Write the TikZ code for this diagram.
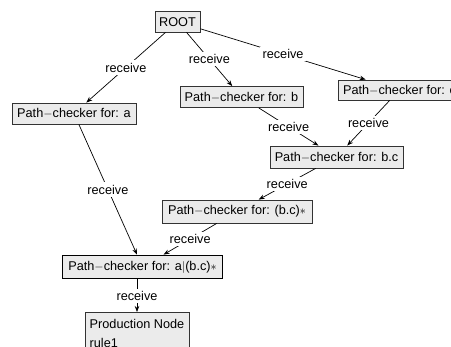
\documentclass[tikz,border=0pt]{standalone}
\usepackage{fontspec}
\setmainfont{Liberation Sans}
\usetikzlibrary{arrows.meta}
\begin{document}
\begin{tikzpicture}[x=1pt,y=-1pt,
  box/.style={draw=black!80, fill=black!8, line width=0.8pt, rectangle, inner sep=0pt, minimum height=21pt, font=\fontsize{12.7}{15}\selectfont},
  lbl/.style={fill=white, inner sep=2.5pt, font=\fontsize{12.7}{15}\selectfont},
  edge/.style={draw=black, line width=0.7pt, -{Stealth[length=6pt,width=4.5pt]}},
]
\useasboundingbox (0,0) rectangle (451,347);
\clip (0,0) rectangle (451,347);
\node[box, minimum width=45pt, minimum height=20.5pt] (root) at (177.5,21.75) {ROOT};
\node[box, minimum width=124pt] (a) at (74,113.5) {Path$-$checker for: a};
\node[box, minimum width=123pt] (b) at (241.5,97) {Path$-$checker for: b};
\node[box, minimum width=123pt, minimum height=20pt] (c) at (399.5,90) {Path$-$checker for: c};
\node[box, minimum width=133pt, minimum height=22pt] (bc) at (336.5,157) {Path$-$checker for: b.c};
\node[box, minimum width=150pt, minimum height=23pt] (bs) at (237,211.5) {Path$-$checker for: (b.c)$\ast$};
\node[box, draw=black, line width=1.8pt, minimum width=160pt, minimum height=23pt] (fin) at (142.5,267) {Path$-$checker for: a$|$(b.c)$\ast$};
\node[box, anchor=north, minimum width=104pt, minimum height=42pt, align=left, font=\fontsize{12.7}{19}\selectfont] (prod) at (137,312) {Production Node\\rule1};
\draw[edge] (root) -- node[lbl]{receive} (a);
\draw[edge] (root) -- node[lbl]{receive} (b);
\draw[edge] (root) -- node[lbl]{receive} (c);
\draw[edge] (b) -- node[lbl]{receive} (bc);
\draw[edge] (c) -- node[lbl]{receive} (bc);
\draw[edge] (bc) -- node[lbl]{receive} (bs);
\draw[edge] (a) -- node[lbl]{receive} (fin);
\draw[edge] (bs) -- node[lbl]{receive} (fin);
\draw[edge] (fin.south -| prod.north) -- node[lbl]{receive} (prod.north);
\end{tikzpicture}
\end{document}
